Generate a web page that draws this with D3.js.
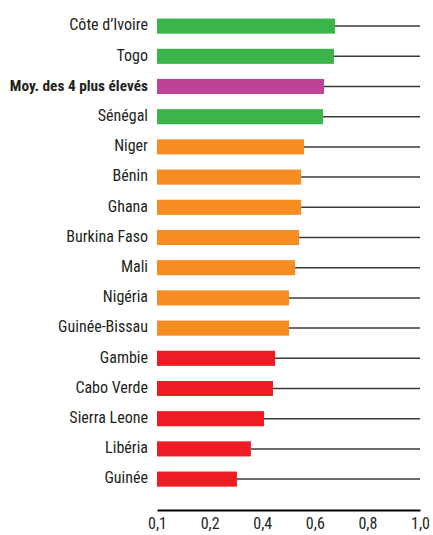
<!DOCTYPE html>
<html>
<head>
<meta charset="utf-8">
<style>
  body { margin: 0; background: #fff; }
  svg text { font-family: 'Liberation Sans Narrow', 'Roboto Condensed', sans-serif; fill: #231f20; }
  .label { font-size: 16px; text-anchor: end; dominant-baseline: middle; }
  .label.bold { font-weight: bold; font-size: 15.3px; }
  .tick text { font-size: 16px; }
</style>
</head>
<body>
<div id="chart"></div>
<script src="https://d3js.org/d3.v7.min.js"></script>
<script>
const countries = ["Côte d’Ivoire", "Togo", "Moy. des 4 plus élevés", "Sénégal", "Niger", "Bénin",
  "Ghana", "Burkina Faso", "Mali", "Nigéria", "Guinée-Bissau", "Gambie", "Cabo Verde",
  "Sierra Leone", "Libéria", "Guinée"];
const values = [0.677, 0.673, 0.635, 0.631, 0.559, 0.548, 0.548, 0.540, 0.525, 0.502, 0.502,
  0.449, 0.441, 0.407, 0.357, 0.304];
const groups = ["top", "top", "avg", "top", "mid", "mid", "mid", "mid", "mid", "mid", "mid",
  "low", "low", "low", "low", "low"];
const tickValues = [0, 0.2, 0.4, 0.6, 0.8, 1.0];
const tickLabels = ["0,1", "0,2", "0,4", "0,6", "0,8", "1,0"];

const colors = { top: "#3bb54a", avg: "#bc4398", mid: "#f68d22", low: "#ed1c24" };

const width = 433, height = 535;
const margin = { left: 157, right: 13, top: 11, bottom: 40 };

const svg = d3.select('#chart').append('svg')
    .attr('width', width)
    .attr('height', height);

const x = d3.scaleLinear().domain([0, 1]).range([margin.left, width - margin.right]);
const y = d3.scaleBand().domain(countries)
    .range([margin.top, margin.top + 30.2 * countries.length])
    .paddingInner(0.5).paddingOuter(0.25);

// guide lines from bar end to the right edge
svg.selectAll('line.guide')
  .data(countries)
  .join('line')
    .attr('class', 'guide')
    .attr('x1', (d, i) => x(values[i]))
    .attr('x2', x(1))
    .attr('y1', d => y(d) + y.bandwidth() / 2)
    .attr('y2', d => y(d) + y.bandwidth() / 2)
    .attr('stroke', '#3a3a3a')
    .attr('stroke-width', 1.5);

svg.selectAll('rect.bar')
  .data(countries)
  .join('rect')
    .attr('class', 'bar')
    .attr('x', x(0))
    .attr('y', d => y(d))
    .attr('width', (d, i) => x(values[i]) - x(0))
    .attr('height', y.bandwidth())
    .attr('fill', (d, i) => colors[groups[i]]);

svg.selectAll('text.label')
  .data(countries)
  .join('text')
    .attr('class', (d, i) => groups[i] === 'avg' ? 'label bold' : 'label')
    .attr('x', 148)
    .attr('y', d => y(d) + y.bandwidth() / 2)
    .text(d => d);

const axis = svg.append('g')
    .attr('transform', `translate(0,${height - 25})`)
    .call(d3.axisBottom(x).tickValues(tickValues)
      .tickFormat((d, i) => tickLabels[i]).tickSize(0).tickPadding(8));
axis.select('.domain').attr('stroke', '#000').attr('stroke-width', 2);
axis.selectAll('.tick text').attr('fill', '#231f20');
</script>
</body>
</html>
